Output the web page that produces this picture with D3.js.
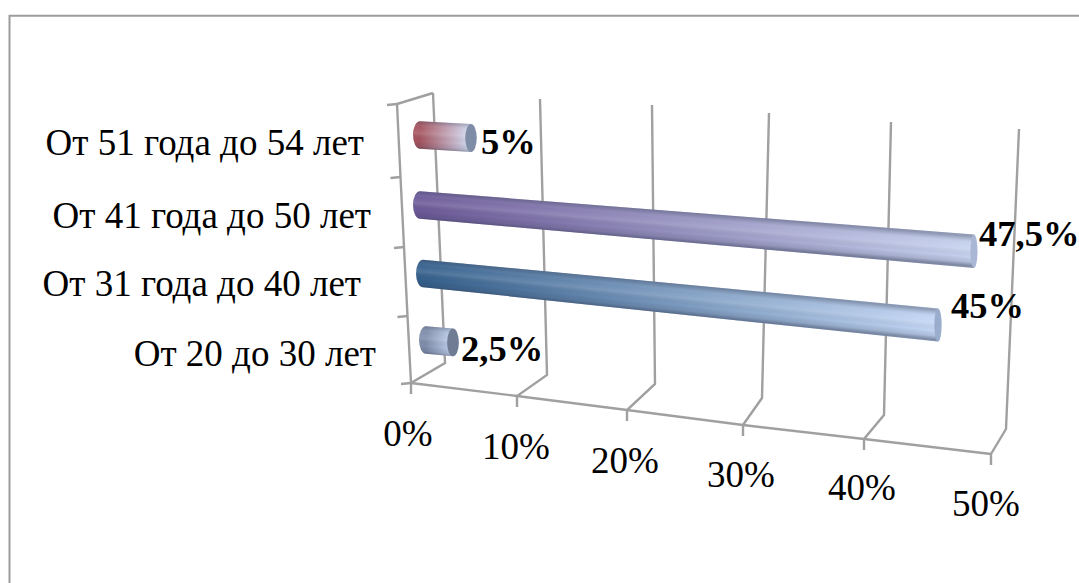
<!DOCTYPE html>
<html>
<head>
<meta charset="utf-8">
<script src="https://cdnjs.cloudflare.com/ajax/libs/d3/7.8.5/d3.min.js"></script>
<style>
  html, body { margin: 0; padding: 0; background: #fff; }
  svg { display: block; }
  text { font-family: "Liberation Serif", serif; fill: #000; }
</style>
</head>
<body>
<svg id="chart" width="1079" height="583"></svg>
<script>
// Age groups, listed from the lowest row to the highest
const categories = ["От 20 до 30 лет", "От 31 года до 40 лет", "От 41 года до 50 лет", "От 51 года до 54 лет"];
const values = [2.5, 45, 47.5, 5];
const valueLabels = ["2,5%", "45%", "47,5%", "5%"];
const axisTicks = [0, 10, 20, 30, 40, 50];
const axisTickLabels = ["0%", "10%", "20%", "30%", "40%", "50%"];

const startColors = ["#7f8daa", "#35608c", "#6c5a98", "#a4545f"];
const endColors = ["#c3d3f0", "#c3d6f4", "#c6d2ee", "#d5e0f8"];
const capColors = ["#6f7c94", "#9aadcc", "#a9b7d4", "#7f8ca5"];

const svg = d3.select("#chart");
const defs = svg.append("defs");
const gridColor = "#a0a0a0";

// Perspective box: each edge is a polylinear scale over the value axis
const frontX = d3.scaleLinear().domain(axisTicks).range([411, 517, 627, 743, 864, 991]);
const frontY = d3.scaleLinear().domain(axisTicks).range([383, 396, 410, 425, 439, 454]);
const backX = d3.scaleLinear().domain(axisTicks).range([445, 547, 655, 762, 884, 1006]);
const backY = d3.scaleLinear().domain(axisTicks).range([363, 375, 384, 398, 415, 429]);
const topX = d3.scaleLinear().domain(axisTicks).range([433, 540, 652, 769, 891, 1019]);
const topY = d3.scaleLinear().domain(axisTicks).range([93, 99, 105, 113, 122, 129]);
const labelX = d3.scaleLinear().domain(axisTicks).range([408, 516, 625, 741, 862, 986]);
const labelY = d3.scaleLinear().domain(axisTicks).range([446, 459, 473, 487, 500, 516]);

// Vertical category axis along the front edge of the left wall
const rowEdges = d3.range(categories.length + 1);
const edgeY = d3.scaleLinear().domain(rowEdges).range([383, 316, 247, 177, 104]);
const edgeX = d3.scaleLinear().domain([0, categories.length]).range([411, 397]);

// Bar geometry inside the box
const rowIndex = d3.scaleLinear().domain(d3.range(categories.length));
const barStartY = rowIndex.copy().range([340, 273.5, 205, 135]);
const barSlope = rowIndex.copy().range([0.09, 0.1, 0.0835, 0.06]);
const barStarts = d3.scaleOrdinal().domain(categories).range([426, 423, 420, 420]);
const barEndX = d3.scaleLinear().domain([2.5, 5, 45, 47.5]).range([453, 471, 938, 974]);
const radiusY = d3.scaleLinear().domain([410, 980]).range([13.6, 16.8]);
const radiusX = d3.scaleLinear().domain([0, 50]).range([6, 3.4]);
const startRadiusX = 7;

// Border of the chart area
svg.append("path")
  .attr("d", "M9.5,583 V15.8 H1079")
  .attr("fill", "none").attr("stroke", "#9c9c9c").attr("stroke-width", 2);

const grid = svg.append("g").attr("fill", "none").attr("stroke", gridColor).attr("stroke-width", 2.4);

// Floor and wall outlines
const line = d3.line();
grid.append("path").attr("d", line(axisTicks.map(t => [frontX(t), frontY(t)])));
grid.append("path").attr("d", line(rowEdges.map(i => [edgeX(i), edgeY(i)])));
grid.append("path").attr("d", line([[edgeX(categories.length), edgeY(categories.length)], [topX(0), topY(0)]]));

// Gridlines up the back wall and across the floor, plus the axis tick marks
grid.selectAll("path.gridline").data(axisTicks).join("path").attr("class", "gridline")
  .attr("d", t => line([
    [frontX(t), frontY(t) + 11],
    [frontX(t), frontY(t)],
    [backX(t), backY(t)],
    [topX(t), topY(t)]
  ]));

grid.selectAll("path.rowtick").data(rowEdges).join("path").attr("class", "rowtick")
  .attr("d", i => line([[edgeX(i), edgeY(i)], [edgeX(i) - 10, edgeY(i) + 1]]));

// Cylindrical bars
const barData = categories.map((name, i) => {
  const x0 = barStarts(name);
  const x1 = barEndX(values[i]);
  const y0 = barStartY(i);
  const y1 = y0 + (x1 - x0) * barSlope(i);
  return { name, i, value: values[i], x0, x1, y0, y1,
    r0: radiusY(x0), r1: radiusY(x1), rx: radiusX(values[i]) };
});

barData.forEach(d => {
  const along = defs.append("linearGradient").attr("id", "along" + d.i)
    .attr("gradientUnits", "userSpaceOnUse")
    .attr("x1", d.x0).attr("y1", d.y0).attr("x2", d.x1).attr("y2", d.y1);
  along.append("stop").attr("offset", 0).attr("stop-color", startColors[d.i]);
  along.append("stop").attr("offset", 1).attr("stop-color", endColors[d.i]);

  // Shading across the cylinder, sheared so it stays parallel to the axis
  const slope = (d.y1 - d.y0) / (d.x1 - d.x0);
  const across = defs.append("linearGradient").attr("id", "across" + d.i)
    .attr("gradientUnits", "userSpaceOnUse")
    .attr("x1", d.x0).attr("y1", d.y0 - d.r0 - 1).attr("x2", d.x0).attr("y2", d.y0 + d.r0 + 1)
    .attr("gradientTransform",
      `translate(${d.x0},${d.y0}) matrix(1,${slope},0,1,0,0) translate(${-d.x0},${-d.y0})`);
  [[0, "#4c5468", 0.42], [0.1, "#5c6478", 0.2], [0.25, "#ffffff", 0.04], [0.45, "#ffffff", 0.13],
   [0.7, "#000000", 0.0], [0.88, "#2c3348", 0.14], [1, "#30384e", 0.45]]
    .forEach(([o, c, a]) => across.append("stop")
      .attr("offset", o).attr("stop-color", c).attr("stop-opacity", a));
});

const bodyPath = d => {
  const p = d3.path();
  p.moveTo(d.x0, d.y0 - d.r0);
  p.lineTo(d.x1, d.y1 - d.r1);
  p.lineTo(d.x1, d.y1 + d.r1);
  p.lineTo(d.x0, d.y0 + d.r0);
  return `${p}A${startRadiusX},${d.r0} 0 0 1 ${d.x0},${d.y0 - d.r0}Z`;
};

const bars = svg.selectAll("g.bar").data(barData).join("g").attr("class", "bar");
bars.append("path").attr("d", bodyPath).attr("fill", d => `url(#along${d.i})`);
bars.append("path").attr("d", bodyPath).attr("fill", d => `url(#across${d.i})`);
bars.append("ellipse")
  .attr("cx", d => d.x1).attr("cy", d => d.y1)
  .attr("rx", d => d.rx).attr("ry", d => d.r1)
  .attr("fill", d => capColors[d.i]);

// Row labels, right-aligned against the category axis
const rowLabelX = [376, 361, 371, 364];
const rowLabelY = d3.scaleOrdinal().domain(categories).range([366, 296, 228, 155]);
svg.selectAll("text.row").data(categories).join("text").attr("class", "row")
  .attr("x", (d, i) => rowLabelX[i]).attr("y", d => rowLabelY(d))
  .attr("text-anchor", "end").attr("font-size", 37).text(d => d);

// Value axis labels
svg.selectAll("text.tick").data(axisTicks).join("text").attr("class", "tick")
  .attr("x", labelX).attr("y", labelY)
  .attr("text-anchor", "middle").attr("font-size", 37)
  .text((d, i) => axisTickLabels[i]);

// Data labels in bold
const valueLabelX = d3.scaleOrdinal().domain(categories).range([461, 951, 979, 481]);
const valueLabelY = d3.scaleOrdinal().domain(categories).range([361, 318, 246, 154]);
svg.selectAll("text.value").data(categories).join("text").attr("class", "value")
  .attr("x", d => valueLabelX(d)).attr("y", d => valueLabelY(d))
  .attr("font-size", 36.5).attr("font-weight", "bold")
  .text((d, i) => valueLabels[i]);
</script>
</body>
</html>
